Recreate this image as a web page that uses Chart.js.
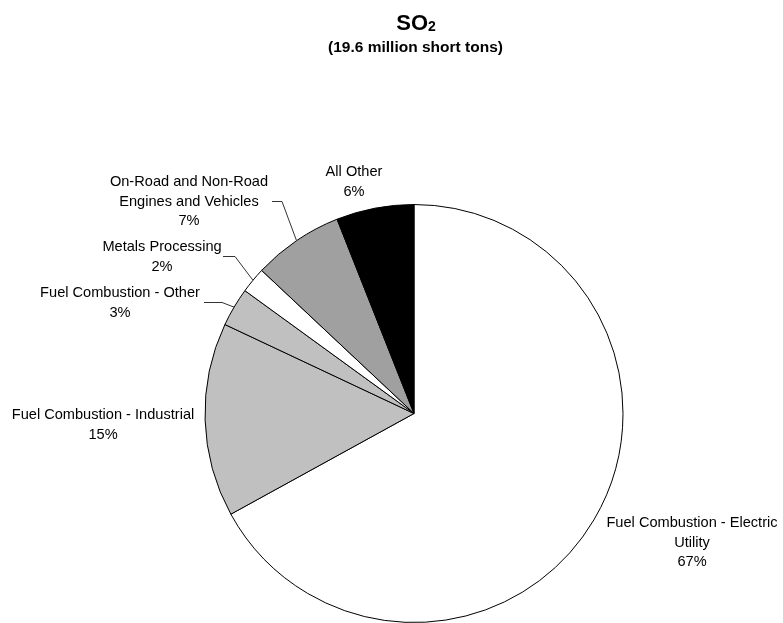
<!DOCTYPE html>
<html>
<head>
<meta charset="utf-8">
<title>SO2 emissions by source</title>
<script src="https://cdn.jsdelivr.net/npm/chart.js@4.4.0/dist/chart.umd.js"></script>
<style>
  html, body { margin: 0; padding: 0; background: #fff; }
  #wrap { position: relative; width: 783px; height: 623px; }
</style>
</head>
<body>
<div id="wrap"><canvas id="so2Chart"></canvas></div>
<script>
// data (clockwise from 12 o'clock)
const sources = [
  ['Fuel Combustion - Electric', 'Utility'],
  ['Fuel Combustion - Industrial'],
  ['Fuel Combustion - Other'],
  ['Metals Processing'],
  ['On-Road and Non-Road', 'Engines and Vehicles'],
  ['All Other']
];
const shares = [67, 15, 3, 2, 7, 6];
const sliceColors = ['#ffffff', '#c0c0c0', '#c0c0c0', '#ffffff', '#a0a0a0', '#000000'];

const titleMain = 'SO';
const titleSub = '2';
const subtitle = '(19.6 million short tons)';

// where each label sits (center x, first line y) and optional leader elbow
const labelSpots = [
  { x: 692, y: 523 },
  { x: 103, y: 415 },
  { x: 120, y: 293, leader: [204, 222, 302] },
  { x: 162, y: 247, leader: [223, 235, 256] },
  { x: 189, y: 182, leader: [272, 282, 201] },
  { x: 354, y: 172 }
];

const FONT = '"Liberation Sans", Arial, Helvetica, sans-serif';

const labelPlugin = {
  id: 'so2Labels',
  afterDraw(chart) {
    const ctx = chart.ctx;
    const meta = chart.getDatasetMeta(0);
    ctx.save();

    // title with subscript
    ctx.fillStyle = '#000';
    ctx.textBaseline = 'alphabetic';
    ctx.font = 'bold 22px ' + FONT;
    const wMain = ctx.measureText(titleMain).width;
    ctx.font = 'bold 14px ' + FONT;
    const wSub = ctx.measureText(titleSub).width;
    const tx = 416 - (wMain + wSub) / 2;
    ctx.font = 'bold 22px ' + FONT;
    ctx.textAlign = 'left';
    ctx.fillText(titleMain, tx, 29.5);
    ctx.font = 'bold 14px ' + FONT;
    ctx.fillText(titleSub, tx + wMain, 31);

    ctx.font = 'bold 15.5px ' + FONT;
    ctx.textAlign = 'center';
    ctx.textBaseline = 'middle';
    ctx.fillText(subtitle, 415.5, 48);

    // slice labels
    ctx.font = '14.6px ' + FONT;
    const lineH = 19.5;
    sources.forEach((lines, i) => {
      const spot = labelSpots[i];
      const all = lines.concat([shares[i] + '%']);
      all.forEach((t, k) => ctx.fillText(t, spot.x, spot.y + k * lineH));

      if (spot.leader) {
        const arc = meta.data[i];
        const mid = (arc.startAngle + arc.endAngle) / 2;
        const r = arc.outerRadius;
        const ex = arc.x + Math.cos(mid) * r;
        const ey = arc.y + Math.sin(mid) * r;
        ctx.beginPath();
        ctx.strokeStyle = '#333';
        ctx.lineWidth = 1;
        ctx.moveTo(spot.leader[0], spot.leader[2] + 0.5);
        ctx.lineTo(spot.leader[1], spot.leader[2] + 0.5);
        ctx.lineTo(ex, ey);
        ctx.stroke();
      }
    });
    ctx.restore();
  }
};

new Chart(document.getElementById('so2Chart'), {
  type: 'pie',
  data: {
    labels: sources.map(s => s.join(' ')),
    datasets: [{
      data: shares,
      backgroundColor: sliceColors,
      borderColor: '#000',
      borderWidth: 1
    }]
  },
  options: {
    responsive: true,
    maintainAspectRatio: false,
    animation: false,
    layout: { padding: { left: 204, right: 159, top: 204, bottom: 0 } },
    plugins: {
      legend: { display: false },
      tooltip: { enabled: false },
      title: { display: false }
    }
  },
  plugins: [labelPlugin]
});
</script>
</body>
</html>
